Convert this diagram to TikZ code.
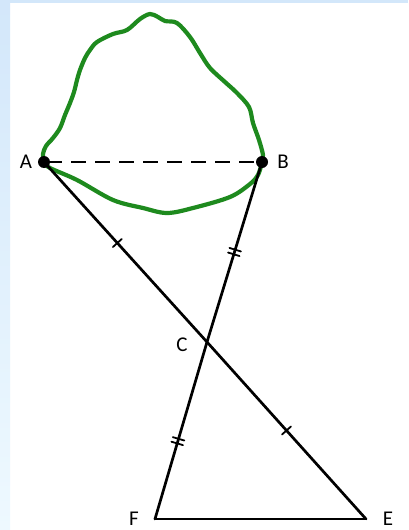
\documentclass[tikz,border=0pt]{standalone}
\usepackage{fontspec}
\setmainfont{Carlito}
\usetikzlibrary{decorations.markings}
\definecolor{bandtop}{HTML}{D3E7FA}
\definecolor{bandbot}{HTML}{EEF9FF}
\definecolor{blob}{HTML}{1E8A1E}
\tikzset{
  seg/.style={line width=2.7pt, line cap=round},
  onetick/.style={postaction={decorate}, decoration={markings,
    mark=at position #1 with {\draw[line width=1.8pt] (0,-6pt) -- (0,6pt);}}},
  twotick/.style={postaction={decorate}, decoration={markings,
    mark=at position #1 with {\draw[line width=1.8pt] (-2.4pt,-6pt) -- (-2.4pt,6pt) (2.4pt,-6pt) -- (2.4pt,6pt);}}},
  lbl/.style={font=\fontsize{21}{24}\selectfont, inner sep=0pt},
}
\begin{document}
\begin{tikzpicture}[x=1pt,y=-1pt]
\useasboundingbox (0,0) rectangle (408,530);
\fill[white] (0,0) rectangle (408,530);
\shade[top color=bandtop, bottom color=bandbot] (0,0) rectangle (10,530);
\fill[bandtop] (0,0) rectangle (408,2.5);

\coordinate (A) at (44,162);
\coordinate (B) at (262,162);
\coordinate (C) at (207,342);
\coordinate (F) at (155,519);
\coordinate (E) at (366,519);

% green blob
\draw[blob, line width=4.2pt, line join=round] plot[smooth cycle, tension=0.55] coordinates {
 (44,162) (43,154) (46,146) (53,138) (60,128) (65,115) (70,103) (74,92) (77,80) (80,70)
 (85,58) (90,50) (97,42) (113,34) (127,30) (140,19) (150,14) (158,17) (165,21) (177,23)
 (190,37) (200,53) (210,68) (225,82) (237,93) (249,107) (253,123) (259,140) (263,155)
 (262,162) (258,175) (250,184) (230,197) (193,208) (167,213) (143,208) (113,200) (77,180) (50,168)};

% dashed AB
\draw[line width=2.6pt, dash pattern=on 15pt off 9pt, dash phase=-3pt] (A) -- (B);

% triangle sides
\draw[seg, onetick=0.45] (A) -- (C);
\draw[seg, onetick=0.5] (C) -- (E);
\draw[seg, twotick=0.5] (B) -- (C);
\draw[seg, twotick=0.56] (C) -- (F);
\draw[seg] (F) -- (E);

\fill (A) circle (6);
\fill (B) circle (6);

\node[lbl] (lA) at (26,162) {A};
\node[lbl] (lB) at (283,162) {B};
\node[lbl] (lC) at (182,345) {C};
\node[lbl] (lF) at (134,519) {F};
\node[lbl] (lE) at (388,519) {E};
\end{tikzpicture}
\end{document}
